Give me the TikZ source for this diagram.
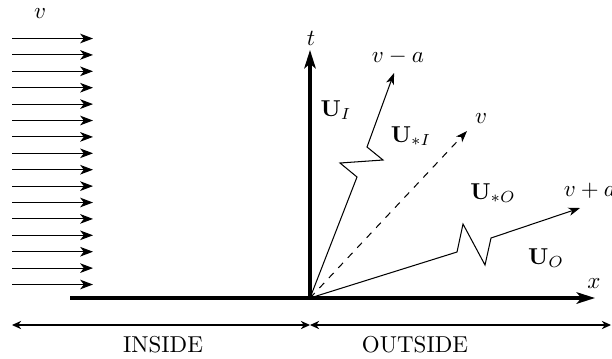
\documentclass[tikz,border=0pt]{standalone}
\usetikzlibrary{arrows.meta}
\begin{document}
\begin{tikzpicture}[x=0.435pt,y=-0.435pt,
  flow/.style={line width=0.45pt,-{Stealth[length=5.6pt,width=4.2pt,inset=1.6pt]}},
  axis/.style={line width=1.35pt,-{Stealth[length=8pt,width=5pt,inset=2pt]}},
  wave/.style={line width=0.45pt,-{Stealth[length=5pt,width=3.6pt,inset=1.4pt]}},
  span/.style={line width=0.45pt,{Stealth[length=4pt,width=3.6pt]}-{Stealth[length=4pt,width=3.6pt]}},
  lbl/.style={inner sep=0pt}]
\useasboundingbox (0,0) rectangle (612,358);
% flow arrows
\foreach \i in {0,...,15}{
  \coordinate (fs\i) at (12,{38.5+16.4*\i});
  \coordinate (fe\i) at (93,{38.5+16.4*\i});
  \draw[flow] (fs\i) -- (fe\i);
}
\node[lbl] (vlab) at (40,14) {$v$};
% axes
\coordinate (O) at (310,298);
\coordinate (xs) at (70,298);
\coordinate (xe) at (595,298);
\coordinate (te) at (310,50);
\draw[axis] (xs) -- (xe);
\draw[axis] (O) -- (te);
\node[lbl] (tlab) at (311,38) {$t$};
\node[lbl] (xlab) at (594,284) {$x$};
% v-a wave
\coordinate (a1) at (357,177);
\coordinate (a2) at (340,163);
\coordinate (a3) at (383,160);
\coordinate (a4) at (367,147);
\coordinate (a5) at (394,73);
\draw[wave] (O) -- (a1) -- (a2) -- (a3) -- (a4) -- (a5);
\node[lbl] (vmalab) at (398,57) {$v-a$};
% contact
\coordinate (c1) at (467,131);
\draw[wave,dashed] (O) -- (c1);
\node[lbl] (vclab) at (481,119) {$v$};
% v+a wave
\coordinate (b1) at (457,252);
\coordinate (b2) at (463,224);
\coordinate (b3) at (485,265);
\coordinate (b4) at (491,238);
\coordinate (b5) at (580,208);
\draw[wave] (O) -- (b1) -- (b2) -- (b3) -- (b4) -- (b5);
\node[lbl] (vpalab) at (590,191) {$v+a$};
% states
\node[lbl] (UI) at (336,110) {$\mathbf{U}_I$};
\node[lbl] (UsI) at (411,136) {$\mathbf{U}_{*I}$};
\node[lbl] (UsO) at (493,193) {$\mathbf{U}_{*O}$};
\node[lbl] (UO) at (546,258) {$\mathbf{U}_O$};
% spans
\coordinate (s1) at (12,325);
\coordinate (s2) at (310,325);
\coordinate (s3) at (611,325);
\draw[span] (s1) -- (s2);
\draw[span] (s2) -- (s3);
\node[lbl] (inside) at (163,345) {INSIDE};
\node[lbl] (outside) at (415,345) {OUTSIDE};
\end{tikzpicture}
\end{document}
